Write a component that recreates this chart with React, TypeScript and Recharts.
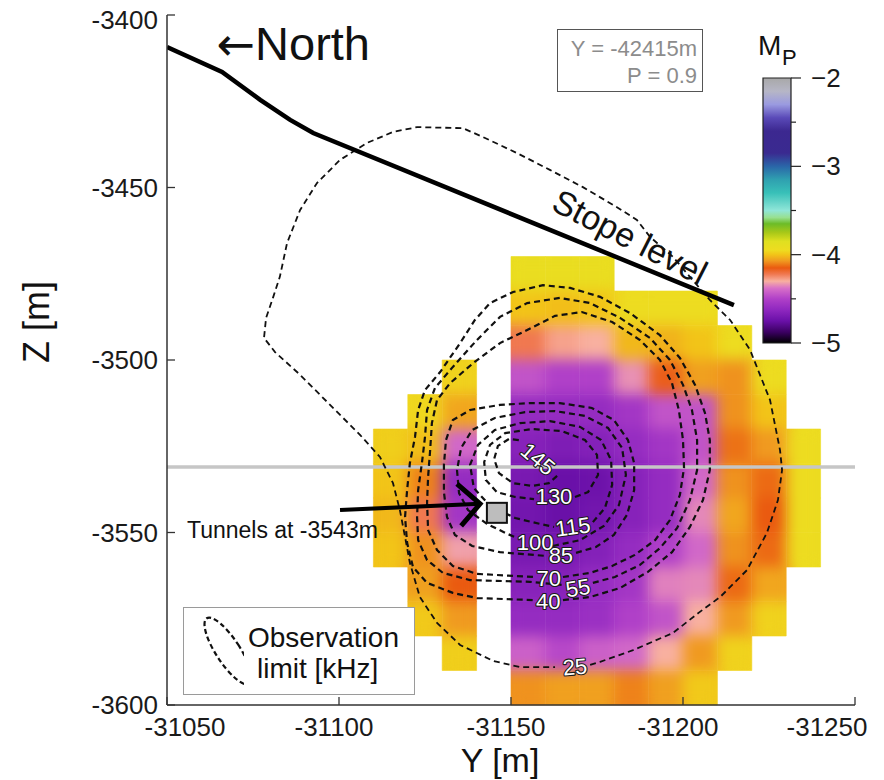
import React from 'react';
import { ComposedChart, XAxis, YAxis, Line, Scatter, ReferenceArea, ReferenceLine } from 'recharts';

const FONT = '"Liberation Sans", Arial, Helvetica, sans-serif';
const FRAME = '#333333';

// Axis ticks
const yTicks = [-31050, -31100, -31150, -31200, -31250];
const zTicks = [-3400, -3450, -3500, -3550, -3600];
const mpTicks = [-5, -4.5, -4, -3.5, -3, -2.5, -2];

// Magnitude grid (10 m cells): column centres along Y, top edge along Z, values top to bottom
const cellColumnsY = [-31115, -31125, -31135, -31155, -31165, -31175, -31185, -31195, -31205, -31215, -31225, -31235];
const cellColumnsTopZ = [-3520, -3510, -3500, -3470, -3470, -3470, -3480, -3480, -3480, -3490, -3500, -3520];
const cellColumnsMp: number[][] = [
  [-3.98, -4.0, -4.02, -4.0],
  [-3.96, -4.01, -4.1, -4.22, -4.08, -4.06, -3.99],
  [-3.97, -4.05, -4.4, -4.6, -4.55, -4.32, -4.15, -4.07, -3.98],
  [-3.92, -4.0, -4.22, -4.45, -4.6, -4.65, -4.7, -4.72, -4.7, -4.65, -4.6, -4.42, -4.08],
  [-3.92, -4.01, -4.28, -4.5, -4.6, -4.68, -4.75, -4.75, -4.7, -4.65, -4.6, -4.48, -4.06],
  [-3.92, -4.0, -4.3, -4.5, -4.6, -4.66, -4.74, -4.72, -4.66, -4.6, -4.58, -4.42, -4.06],
  [-3.94, -4.02, -4.34, -4.55, -4.6, -4.65, -4.65, -4.6, -4.55, -4.5, -4.4, -4.1],
  [-3.94, -4.03, -4.16, -4.45, -4.55, -4.6, -4.6, -4.5, -4.36, -4.45, -4.3, -4.06],
  [-3.94, -4.0, -4.06, -4.45, -4.45, -4.4, -4.35, -4.4, -4.35, -4.3, -4.07, -3.99],
  [-3.94, -4.08, -4.08, -4.12, -4.08, -4.05, -4.08, -4.13, -4.07, -3.97],
  [-3.94, -4.0, -4.07, -4.13, -4.15, -4.13, -4.05, -3.97],
  [-3.94, -3.94, -3.94, -3.94],
];

// Colour map for M_P, from -2 (top of bar) to -5
const mpStops: [number, string][] = [
  [-2.0, '#a8a8a8'], [-2.15, '#b6b6c6'], [-2.3, '#9a9ae0'], [-2.45, '#5a4ab8'], [-2.6, '#3c2890'],
  [-2.85, '#3a2a90'], [-3.0, '#2a66a8'], [-3.15, '#2fa0b0'], [-3.3, '#38c0b8'], [-3.5, '#90e6d8'],
  [-3.58, '#98e090'], [-3.65, '#6cbc28'], [-3.75, '#a8c818'], [-3.85, '#e0e020'], [-3.95, '#eedc20'],
  [-4.0, '#f2c418'], [-4.07, '#f09a20'], [-4.15, '#ea5a10'], [-4.22, '#f07850'], [-4.3, '#f8b0a0'],
  [-4.38, '#d870c8'], [-4.5, '#b040c8'], [-4.62, '#9028c0'], [-4.75, '#6a10a8'], [-4.88, '#3a0060'],
  [-5.0, '#000000'],
];

// Observation-limit contours [kHz], as (Y, Z) vertices
const contour25: [number, number][] = [
  [-31173.0, -3588.4], [-31175.9, -3587.5], [-31185.5, -3584.1], [-31197.1, -3579.1], [-31204.9, -3573.0],
  [-31210.8, -3568.7], [-31218.6, -3560.9], [-31224.4, -3550.1], [-31227.6, -3540.6], [-31228.8, -3531.9],
  [-31228.2, -3526.1], [-31225.3, -3511.6], [-31219.5, -3497.1], [-31213.7, -3488.4], [-31207.8, -3482.6],
  [-31202.0, -3475.9], [-31197.1, -3470.1], [-31190.4, -3464.3], [-31186.6, -3459.4], [-31180.8, -3455.7],
  [-31170.9, -3449.9], [-31161.3, -3444.9], [-31151.7, -3440.0], [-31141.9, -3435.4], [-31136.0, -3432.8],
  [-31122.7, -3432.5], [-31115.7, -3433.9], [-31108.1, -3437.1], [-31100.3, -3442.0], [-31093.6, -3448.7],
  [-31088.7, -3456.5], [-31084.9, -3466.1], [-31082.8, -3475.9], [-31080.8, -3482.0], [-31078.8, -3487.8],
  [-31078.2, -3493.6], [-31081.4, -3497.7], [-31088.7, -3504.3], [-31097.4, -3513.0], [-31106.1, -3521.7],
  [-31111.9, -3528.1], [-31115.7, -3535.7], [-31117.7, -3543.5], [-31119.2, -3551.3], [-31120.6, -3558.8],
  [-31123.5, -3568.7], [-31128.5, -3576.2], [-31135.2, -3582.6], [-31144.8, -3587.2], [-31152.6, -3589.0],
  [-31162.8, -3589.0],
];
const contour40: [number, number][] = [
  [-31165.1, -3569.6], [-31173.0, -3568.7], [-31181.7, -3566.1], [-31189.8, -3561.4], [-31196.8, -3555.7],
  [-31202.0, -3548.4], [-31205.8, -3540.6], [-31207.8, -3531.9], [-31207.8, -3523.2], [-31206.4, -3515.4],
  [-31203.5, -3507.2], [-31199.1, -3499.4], [-31193.3, -3492.8], [-31184.6, -3486.4], [-31175.9, -3481.7],
  [-31167.2, -3479.1], [-31159.3, -3478.3], [-31150.6, -3480.3], [-31143.9, -3483.5], [-31139.5, -3488.4],
  [-31135.2, -3495.1], [-31129.4, -3503.5], [-31125.0, -3508.7], [-31123.0, -3514.5], [-31122.1, -3522.3],
  [-31120.6, -3529.9], [-31119.8, -3537.7], [-31119.2, -3545.5], [-31119.8, -3553.0], [-31121.5, -3560.0],
  [-31125.6, -3564.6], [-31133.1, -3567.5], [-31140.1, -3569.0], [-31156.7, -3569.6],
];
const contour55: [number, number][] = [
  [-31173.8, -3564.6], [-31180.2, -3562.9], [-31187.5, -3559.4], [-31193.3, -3554.5], [-31198.3, -3548.7],
  [-31202.0, -3540.6], [-31204.1, -3531.9], [-31204.1, -3523.2], [-31202.6, -3514.5], [-31200.0, -3507.2],
  [-31196.2, -3500.0], [-31190.4, -3493.6], [-31181.7, -3487.8], [-31173.0, -3483.5], [-31164.2, -3482.0],
  [-31154.7, -3483.5], [-31146.8, -3487.5], [-31140.1, -3494.2], [-31133.1, -3502.0], [-31127.9, -3508.1],
  [-31125.6, -3514.5], [-31125.0, -3522.3], [-31124.1, -3529.9], [-31123.0, -3537.7], [-31122.7, -3545.5],
  [-31123.0, -3552.2], [-31125.6, -3558.0], [-31130.2, -3561.7], [-31138.1, -3563.8], [-31155.5, -3564.3],
  [-31165.1, -3565.2],
];
const contour70: [number, number][] = [
  [-31165.1, -3562.9], [-31173.0, -3561.7], [-31179.4, -3559.7], [-31186.0, -3556.5], [-31191.9, -3552.2],
  [-31196.2, -3546.4], [-31199.1, -3539.1], [-31200.3, -3531.3], [-31200.0, -3523.2], [-31198.8, -3514.5],
  [-31196.8, -3506.7], [-31193.3, -3500.0], [-31187.5, -3494.2], [-31179.4, -3489.0], [-31170.6, -3486.1],
  [-31162.8, -3487.2], [-31154.7, -3491.3], [-31146.8, -3495.1], [-31139.0, -3500.9], [-31132.3, -3506.7],
  [-31128.5, -3511.6], [-31127.0, -3518.3], [-31126.5, -3526.1], [-31125.9, -3533.9], [-31125.6, -3541.4],
  [-31125.9, -3549.3], [-31128.5, -3555.1], [-31133.1, -3559.7], [-31140.1, -3562.0], [-31156.7, -3562.9],
];
const contour85: [number, number][] = [
  [-31168.9, -3555.9], [-31174.7, -3554.2], [-31179.9, -3550.7], [-31183.7, -3544.9], [-31185.8, -3537.7],
  [-31185.8, -3529.9], [-31184.0, -3523.2], [-31179.9, -3517.4], [-31173.5, -3513.9], [-31164.2, -3512.5],
  [-31155.5, -3512.5], [-31146.8, -3513.0], [-31138.1, -3514.5], [-31133.1, -3517.4], [-31131.1, -3523.2],
  [-31130.5, -3530.4], [-31130.5, -3538.3], [-31131.4, -3545.5], [-31133.7, -3550.7], [-31138.7, -3553.9],
  [-31146.8, -3555.7], [-31160.2, -3556.8],
];
const contour100: [number, number][] = [
  [-31162.2, -3553.9], [-31170.1, -3552.2], [-31177.0, -3548.1], [-31181.4, -3542.0], [-31183.4, -3533.3],
  [-31182.3, -3525.5], [-31178.2, -3519.7], [-31171.5, -3516.2], [-31162.8, -3514.8], [-31154.1, -3515.1],
  [-31145.3, -3516.8], [-31138.7, -3520.3], [-31135.5, -3525.5], [-31134.3, -3531.9], [-31134.9, -3538.6],
  [-31137.5, -3543.5], [-31143.0, -3547.5], [-31148.3, -3550.1], [-31151.7, -3551.6],
];
const contour115: [number, number][] = [
  [-31173.8, -3547.0], [-31177.3, -3542.9], [-31179.4, -3536.2], [-31179.1, -3529.0], [-31176.2, -3523.2],
  [-31170.1, -3519.4], [-31161.3, -3517.7], [-31152.6, -3518.3], [-31145.3, -3520.3], [-31140.4, -3524.6],
  [-31138.1, -3530.4], [-31139.2, -3537.1], [-31143.9, -3542.3], [-31151.2, -3545.8], [-31158.4, -3547.5],
  [-31162.5, -3548.4],
];
const contour130: [number, number][] = [
  [-31168.6, -3539.7], [-31172.4, -3538.3], [-31175.3, -3533.3], [-31175.0, -3527.5], [-31171.5, -3523.2],
  [-31164.8, -3520.6], [-31156.1, -3520.0], [-31148.3, -3521.2], [-31143.9, -3524.6], [-31142.2, -3529.6],
  [-31142.7, -3534.8], [-31145.9, -3538.3], [-31151.2, -3539.7], [-31156.7, -3540.3],
];
const contour145: [number, number][] = [
  [-31163.4, -3533.6], [-31161.0, -3535.7], [-31156.1, -3536.5], [-31150.6, -3535.7], [-31146.5, -3532.8],
  [-31145.1, -3528.7], [-31146.2, -3524.9], [-31149.4, -3522.9], [-31152.3, -3523.2],
];
const contourLevels = ['25', '40', '55', '70', '85', '100', '115', '130', '145'];
const contourLabelY = [-31168.6, -31160.8, -31169.5, -31161.0, -31164.5, -31157.0, -31168.0, -31162.5, -31157.8];
const contourLabelZ = [-3589.0, -3570.1, -3566.1, -3563.2, -3556.8, -3552.8, -3548.4, -3539.7, -3528.7];

// Stope level trace
const stopeLine: [number, number][] = [
  [-31050.0, -3409.3], [-31066.0, -3416.5], [-31077.1, -3424.6], [-31085.8, -3430.4], [-31092.5, -3434.2],
  [-31214.8, -3484.1],
];
// Section line and tunnel marker
const sectionZ = -3531;
const tunnel: [number, number] = [-31145.9, -3544.3];
const pointerShaft: [number, number][] = [[-31100.3, -3543.5], [-31141.0, -3541.7]];
const pointerHead: [number, number][] = [[-31134.3, -3535.9], [-31141.0, -3541.7], [-31135.5, -3548.1]];

// Text anchors
const northAt: [number, number] = [-31075.6, -3413.0];
const stopeTextAt: [number, number] = [-31184.6, -3464.3];
const tunnelTextAt: [number, number] = [-31055.8, -3549.3];

const toPts = (a: [number, number][]) => a.map(([y, z]) => ({ y, z }));

const hex = (h: string) => [1, 3, 5].map((i) => parseInt(h.slice(i, i + 2), 16));
function mpColor(v: number): string {
  if (v >= mpStops[0][0]) return mpStops[0][1];
  for (let i = 1; i < mpStops.length; i++) {
    const [v1, c1] = mpStops[i];
    const [v0, c0] = mpStops[i - 1];
    if (v >= v1) {
      const t = (v0 - v) / (v0 - v1);
      const a = hex(c0);
      const b = hex(c1);
      const m = a.map((x, k) => Math.round(x + (b[k] - x) * t));
      return `rgb(${m[0]},${m[1]},${m[2]})`;
    }
  }
  return mpStops[mpStops.length - 1][1];
}

const heatCells = cellColumnsY.flatMap((y, ci) =>
  cellColumnsMp[ci].map((mp, r) => ({ y, z: cellColumnsTopZ[ci] - 5 - 10 * r, mp }))
);
const barData = mpTicks.map((mp) => ({ x: 0.5, mp }));

const contours = [contour25, contour40, contour55, contour70, contour85, contour100, contour115, contour130, contour145];
const labelAngles: Record<string, number> = { '25': -5, '55': -10, '115': -8, '145': 40 };
const contourLabels = contourLevels.map((t, i) => ({ y: contourLabelY[i], z: contourLabelZ[i], text: t }));

const BottomTick = (props: any) => {
  const { x, y, payload } = props;
  const v = payload.value;
  const dx = v === -31050 ? 18 : v === -31250 ? -28 : -5;
  return (
    <g>
      <line x1={x} x2={x} y1={y} y2={y - 8} stroke={FRAME} strokeWidth={1.3} />
      <text x={x + dx} y={y + 31} textAnchor="middle" fontSize={26} fontFamily={FONT} fill="#1a1a1a">
        {v}
      </text>
    </g>
  );
};
const TopTick = (props: any) => {
  const { x, y } = props;
  return <line x1={x} x2={x} y1={y} y2={y + 8} stroke={FRAME} strokeWidth={1.3} />;
};
const LeftTick = (props: any) => {
  const { x, y, payload } = props;
  const v = payload.value;
  const dy = v === -3400 ? 14 : 9;
  return (
    <g>
      <line x1={x} x2={x + 8} y1={y} y2={y} stroke={FRAME} strokeWidth={1.3} />
      <text x={x - 9} y={y + dy} textAnchor="end" fontSize={26} fontFamily={FONT} fill="#1a1a1a">
        {v}
      </text>
    </g>
  );
};
const RightTick = (props: any) => {
  const { x, y } = props;
  return <line x1={x} x2={x - 8} y1={y} y2={y} stroke={FRAME} strokeWidth={1.3} />;
};
const BarTick = (props: any) => {
  const { x, y, payload } = props;
  const v = payload.value;
  const major = Number.isInteger(v);
  return (
    <g>
      <line x1={x} x2={x + (major ? 10 : 5)} y1={y} y2={y} stroke="#222" strokeWidth={1.2} />
      {major && (
        <text x={x + 20} y={y + 9} fontSize={26} fontFamily={FONT} fill="#1a1a1a">
          {'\u2212' + Math.abs(v)}
        </text>
      )}
    </g>
  );
};

const labelShape = (props: any) => {
  const { cx, cy, payload } = props;
  const a = labelAngles[payload.text] ?? 0;
  return (
    <text
      x={cx}
      y={cy}
      textAnchor="middle"
      dominantBaseline="central"
      fontSize={22}
      fontFamily={FONT}
      fill="#ffffff"
      stroke="#1a1a1a"
      strokeWidth={2.2}
      paintOrder="stroke"
      strokeLinejoin="round"
      transform={`rotate(${a} ${cx} ${cy})`}
    >
      {payload.text}
    </text>
  );
};
const squareShape = (props: any) => {
  const { cx, cy } = props;
  return <rect x={cx - 10} y={cy - 10} width={20} height={20} fill="#bdbdbd" stroke="#111" strokeWidth={2} />;
};
const noShape = () => <g />;
const textShape =
  (text: string, size: number, anchor: string, angle: number, baseline: string, family = FONT) =>
  (props: any) => {
    const { cx, cy } = props;
    return (
      <text
        x={cx}
        y={cy}
        textAnchor={anchor}
        dominantBaseline={baseline}
        fontSize={size}
        fontFamily={family}
        fill="#111"
        transform={`rotate(${angle} ${cx} ${cy})`}
      >
        {text}
      </text>
    );
  };

const axisLine = { stroke: FRAME, strokeWidth: 1.5 };
const W = 876;
const H = 780;

export default function App() {
  return (
    <div style={{ position: 'relative', width: W, height: 772, background: '#fff', fontFamily: FONT }}>
      <svg width={0} height={0} style={{ position: 'absolute' }}>
        <defs>
          <filter id="heatSoft" x="-5%" y="-5%" width="110%" height="110%" colorInterpolationFilters="sRGB">
            <feGaussianBlur in="SourceGraphic" stdDeviation="7" result="blur" />
            <feComponentTransfer in="blur" result="solid">
              <feFuncA type="table" tableValues="0 1 1 1 1 1 1 1 1 1 1 1 1 1 1 1 1 1 1 1" />
            </feComponentTransfer>
            <feComposite in="solid" in2="SourceAlpha" operator="in" />
          </filter>
        </defs>
      </svg>

      {/* magnitude field, softened */}
      <div style={{ position: 'absolute', left: 0, top: -8, filter: 'url(#heatSoft)' }}>
        <ComposedChart width={W} height={H} margin={{ top: 15, right: 29, bottom: 75, left: 159 }} data={heatCells}>
          <XAxis type="number" dataKey="y" domain={[-31250, -31050]} reversed allowDataOverflow hide />
          <YAxis type="number" dataKey="z" domain={[-3600, -3400]} allowDataOverflow hide />
          <Scatter data={heatCells} dataKey="z" shape={noShape} isAnimationActive={false} />
          {heatCells.map((c, i) => (
            <ReferenceArea
              key={`cell-${i}`}
              x1={c.y - 5}
              x2={c.y + 5}
              y1={c.z - 5}
              y2={c.z + 5}
              fill={mpColor(c.mp)}
              fillOpacity={1}
              stroke={mpColor(c.mp)}
              strokeWidth={0.6}
            />
          ))}
        </ComposedChart>
      </div>

      <div style={{ position: 'absolute', left: 0, top: -8 }}>
        <ComposedChart width={W} height={H} margin={{ top: 15, right: 29, bottom: 5, left: 59 }}>
          <XAxis
            xAxisId={0}
            type="number"
            dataKey="y"
            domain={[-31250, -31050]}
            reversed
            ticks={yTicks}
            interval={0}
            allowDataOverflow
            height={70}
            tickSize={0}
            tickMargin={0}
            tickLine={false}
            axisLine={axisLine}
            tick={<BottomTick />}
          />
          <XAxis
            xAxisId="top"
            orientation="top"
            type="number"
            dataKey="y"
            domain={[-31250, -31050]}
            reversed
            ticks={yTicks}
            interval={0}
            allowDataOverflow
            height={0}
            tickSize={0}
            tickMargin={0}
            tickLine={false}
            axisLine={axisLine}
            tick={<TopTick />}
          />
          <YAxis
            yAxisId={0}
            type="number"
            dataKey="z"
            domain={[-3600, -3400]}
            ticks={zTicks}
            interval={0}
            allowDataOverflow
            width={100}
            tickSize={0}
            tickMargin={0}
            tickLine={false}
            axisLine={axisLine}
            tick={<LeftTick />}
          />
          <YAxis
            yAxisId="right"
            orientation="right"
            type="number"
            dataKey="z"
            domain={[-3600, -3400]}
            ticks={zTicks}
            interval={0}
            allowDataOverflow
            width={0}
            tickSize={0}
            tickMargin={0}
            tickLine={false}
            axisLine={axisLine}
            tick={<RightTick />}
          />

          <ReferenceLine y={sectionZ} stroke="#c6c6c6" strokeWidth={3.5} />

          {contours.map((c, i) => (
            <Line
              key={`contour-${i}`}
              data={toPts(c)}
              dataKey="z"
              type="linear"
              stroke="#111"
              strokeWidth={i === 0 ? 1.8 : 2.2}
              strokeDasharray="6 4"
              dot={false}
              activeDot={false}
              isAnimationActive={false}
            />
          ))}

          <Line data={toPts(stopeLine)} dataKey="z" type="linear" stroke="#000" strokeWidth={4.5} dot={false} activeDot={false} isAnimationActive={false} />
          <Line data={toPts(pointerShaft)} dataKey="z" type="linear" stroke="#000" strokeWidth={4} dot={false} activeDot={false} isAnimationActive={false} />
          <Line data={toPts(pointerHead)} dataKey="z" type="linear" stroke="#000" strokeWidth={5} dot={false} activeDot={false} isAnimationActive={false} />

          <Scatter data={contourLabels} dataKey="z" shape={labelShape} isAnimationActive={false} />
          <Scatter data={toPts([tunnel])} dataKey="z" shape={squareShape} isAnimationActive={false} />
          <Scatter data={toPts([northAt])} dataKey="z" shape={textShape('North', 47, 'start', 0, 'auto')} isAnimationActive={false} />
          <Scatter
            data={toPts([northAt])}
            dataKey="z"
            shape={textShape('\u2190', 46, 'end', 0, 'auto', '"DejaVu Sans", sans-serif')}
            isAnimationActive={false}
          />
          <Scatter data={toPts([stopeTextAt])} dataKey="z" shape={textShape('Stope level', 34, 'middle', 27, 'central')} isAnimationActive={false} />
          <Scatter data={toPts([tunnelTextAt])} dataKey="z" shape={textShape('Tunnels at -3543m', 23, 'start', 0, 'central')} isAnimationActive={false} />
        </ComposedChart>
      </div>

      {/* colour bar */}
      <div style={{ position: 'absolute', left: 751, top: 40 }}>
        <ComposedChart width={110} height={330} margin={{ top: 30, right: 0, left: 4, bottom: 35 }} data={barData}>
          <defs>
            <linearGradient id="mpGrad" x1="0" y1="0" x2="0" y2="1">
              {mpStops.map(([v, c], i) => (
                <stop key={i} offset={`${((-2 - v) / 3) * 100}%`} stopColor={c} />
              ))}
            </linearGradient>
          </defs>
          <XAxis type="number" dataKey="x" domain={[0, 1]} hide />
          <YAxis
            type="number"
            dataKey="mp"
            orientation="right"
            domain={[-5, -2]}
            ticks={mpTicks}
            interval={0}
            width={78}
            axisLine={false}
            tickLine={false}
            tickSize={0}
            tickMargin={0}
            tick={<BarTick />}
          />
          <Scatter data={barData} dataKey="mp" shape={noShape} isAnimationActive={false} />
          <ReferenceArea x1={0} x2={1} y1={-5} y2={-2} fill="url(#mpGrad)" fillOpacity={1} stroke="#222" strokeWidth={1.2} />
        </ComposedChart>
      </div>

      {/* titles */}
      <svg width={W} height={772} style={{ position: 'absolute', left: 0, top: 0, pointerEvents: 'none' }}>
        <text x={492} y={764} textAnchor="middle" fontSize={34} fontFamily={FONT} fill="#111">Y [m]</text>
        <text x={28} y={314} textAnchor="middle" dominantBaseline="central" fontSize={36} fontFamily={FONT} fill="#111" transform="rotate(-90 28 314)">Z [m]</text>
        <text x={750} y={47} fontSize={28} fontFamily={FONT} fill="#111">M</text>
        <text x={774} y={57} fontSize={22} fontFamily={FONT} fill="#111">P</text>
      </svg>

      {/* section info */}
      <div
        style={{
          position: 'absolute', left: 549, top: 21, width: 146, height: 63, boxSizing: 'border-box',
          border: '1.5px solid #555', background: '#fff', textAlign: 'right', paddingRight: 5, paddingTop: 5,
          fontSize: 22, lineHeight: '27px', color: '#8c8c8c', fontFamily: FONT,
        }}
      >
        <div>Y = -42415m</div>
        <div>P = 0.9</div>
      </div>

      {/* key */}
      <div
        style={{
          position: 'absolute', left: 175, top: 599, width: 232, height: 88, boxSizing: 'border-box',
          border: '1px solid #9a9a9a', background: '#fff', fontFamily: FONT,
        }}
      >
        <svg width={60} height={86} style={{ position: 'absolute', left: 0, top: 0 }}>
          <ellipse cx={44} cy={43} rx={12} ry={39} fill="none" stroke="#111" strokeWidth={2.2} strokeDasharray="5 3" transform="rotate(-33 44 43)" />
        </svg>
        <div style={{ position: 'absolute', left: 64, top: 14, fontSize: 28, lineHeight: '31px', color: '#111' }}>
          Observation
          <br />
          <span style={{ marginLeft: 9 }}>limit [kHz]</span>
        </div>
      </div>
    </div>
  );
}
